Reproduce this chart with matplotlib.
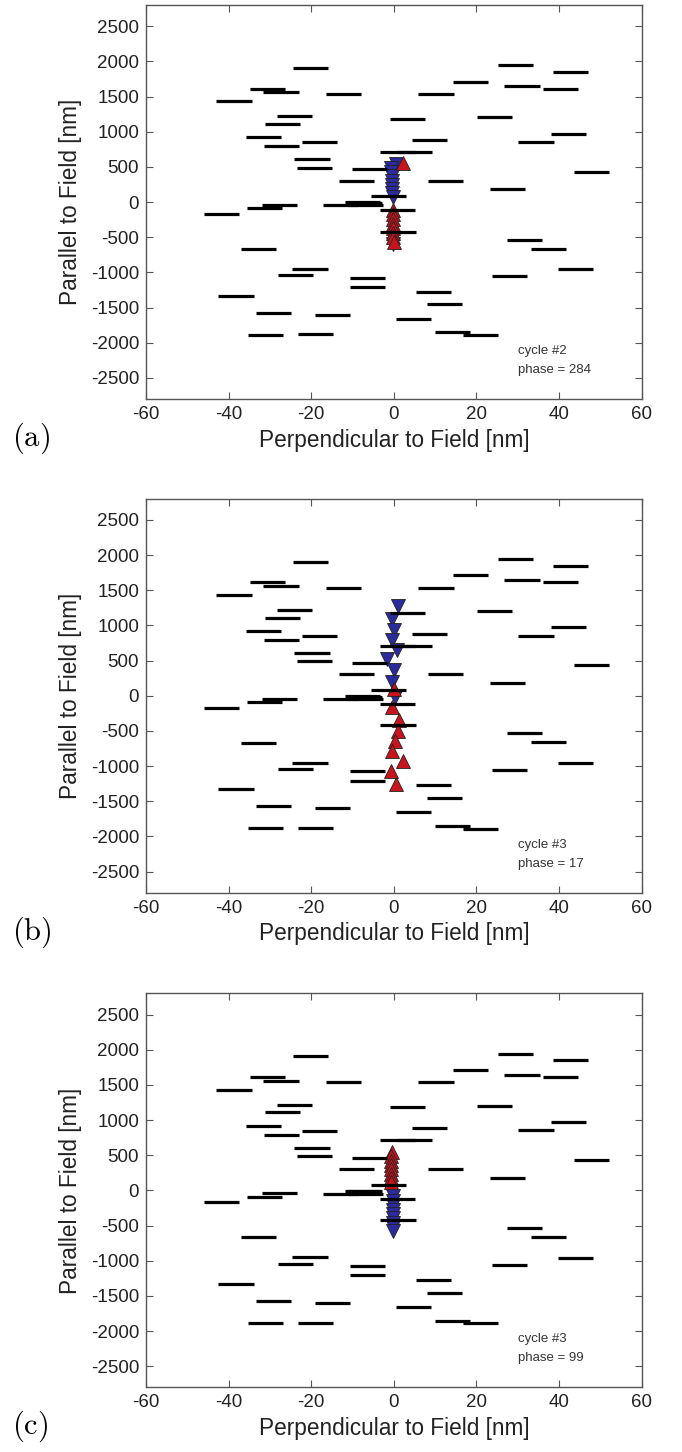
import numpy as np
import matplotlib
matplotlib.use("Agg")
import matplotlib.pyplot as plt

plt.rcParams['font.family'] = ['Liberation Sans', 'DejaVu Sans']
plt.rcParams['mathtext.fontset'] = 'cm'
plt.rcParams['axes.unicode_minus'] = False

# static black dashes (centre x [nm], y [nm]); all about 8.5 nm long
seg_x = np.array([-20.2, 29.4, 42.8, 18.6, 31.0, 40.4, -30.5, -27.3, -12.1, 10.2,
                  -38.7, -24.1, -26.9, 3.3, 24.4, -31.5, -27.2, -18.0, 8.7, 34.4,
                  42.3, 0.9, 5.0, -19.8, -19.3, -6.0, -9.0, 12.6, 47.9, 27.5,
                  -1.3, -13.0, -6.9, -7.6, -7.0, 0.8, -31.3, -27.7, -41.8, 1.0,
                  31.7, 37.5, -32.8, -20.3, -23.7, 43.9, 28.0, -6.4, -6.4, -38.2,
                  9.5, 12.3, -29.2, -14.8, 4.7, 14.3, 21.0, -31.0, -18.9])
seg_y = np.array([1906, 1944, 1849, 1712, 1645, 1612, 1612, 1560, 1536, 1536,
                  1432, 1218, 1109, 1180, 1204, 919, 791, 848, 881, 852,
                  971, 710, 710, 610, 491, 468, 302, 306, 434, 183,
                  83, -45, -45, -5, -15, -118, -88, -40, -169, -420,
                  -534, -663, -668, -953, -1043, -957, -1057, -1076, -1209, -1332,
                  -1275, -1456, -1574, -1603, -1660, -1850, -1888, -1883, -1878])
seg_len = 8.5

# (a) cycle #2, phase 284
a_blue_x = [0.5, -0.6, -0.6, -0.5, -0.5, -0.5, -0.4, -0.4, -0.3, -0.2]
a_blue_y = [545, 485, 425, 365, 305, 245, 185, 125, 65, -600]
a_red_x = [2.1, -0.2, -0.2, -0.1, -0.2, -0.1, -0.2, -0.1, 0.1]
a_red_y = [560, -110, -175, -240, -305, -370, -435, -500, -565]

# (b) cycle #3, phase 17
b_blue_x = [0.92, -0.53, 0.12, -0.53, 0.68, -1.69, -0.07, -0.53, 0.19]
b_blue_y = [1282, 1093, 940, 793, 655, 523, 370, 199, -23]
b_red_x = [0.12, -0.53, 1.16, 0.92, 0.36, -0.48, 2.3, -0.77, 0.6]
b_red_y = [95, -166, -346, -498, -650, -783, -926, -1077, -1258]

# (c) cycle #3, phase 99
c_blue_x = [-0.3, -0.3, -0.2, -0.3, -0.2, -0.3, -0.2, -0.2, -0.1]
c_blue_y = [-86, -148, -210, -272, -334, -396, -458, -520, -582]
c_red_x = [-0.5, -0.6, -0.6, -0.7, -0.6, -0.7, -0.6, -0.6]
c_red_y = [544, 483, 422, 361, 300, 239, 178, 117]

panels = [
    ('(a)', 'cycle #2', 'phase = 284', a_blue_x, a_blue_y, a_red_x, a_red_y),
    ('(b)', 'cycle #3', 'phase = 17', b_blue_x, b_blue_y, b_red_x, b_red_y),
    ('(c)', 'cycle #3', 'phase = 99', c_blue_x, c_blue_y, c_red_x, c_red_y),
]

fig = plt.figure(figsize=(6.82, 14.52), dpi=100)
bottoms = [0.7252, 0.3852, 0.0445]
frame = '#555555'

for (lab, t1, t2, bx, by, rx, ry), b0 in zip(panels, bottoms):
    ax = fig.add_axes([0.214, b0, 0.727, 0.2713])
    ax.plot(bx, by, linestyle='none', marker='v', markersize=10,
            markerfacecolor='#2b2b9c', markeredgecolor='#222222', markeredgewidth=0.6, zorder=2)
    ax.plot(rx, ry, linestyle='none', marker='^', markersize=10,
            markerfacecolor='#c8141c', markeredgecolor='#222222', markeredgewidth=0.6, zorder=2)
    ax.hlines(seg_y, seg_x - seg_len / 2, seg_x + seg_len / 2, colors='black',
              linewidth=2.3, zorder=3)

    ax.set_xlim(-60, 60)
    ax.set_ylim(-2800, 2800)
    ax.set_xticks(np.arange(-60, 61, 20))
    ax.set_yticks(np.arange(-2500, 2501, 500))
    ax.tick_params(direction='in', length=5, width=0.8, color=frame,
                   top=True, right=True, labelsize=13.5, labelcolor='#222222', pad=5)
    for sp in ax.spines.values():
        sp.set_color(frame)
        sp.set_linewidth(1.0)
    ax.set_xlabel('Perpendicular to Field [nm]', fontsize=16.3, color='#222222', labelpad=4)
    ax.set_ylabel('Parallel to Field [nm]', fontsize=16.3, color='#222222', labelpad=6)

    ax.text(0.75, 0.114, t1, transform=ax.transAxes, fontsize=9.5, color='#333333')
    ax.text(0.75, 0.066, t2, transform=ax.transAxes, fontsize=9.5, color='#333333')

    fig.text(0.018, b0 - 0.027, r'$\mathrm{' + lab + '}$', fontsize=22, va='center', ha='left')

fig.savefig('out.png', dpi=100)
